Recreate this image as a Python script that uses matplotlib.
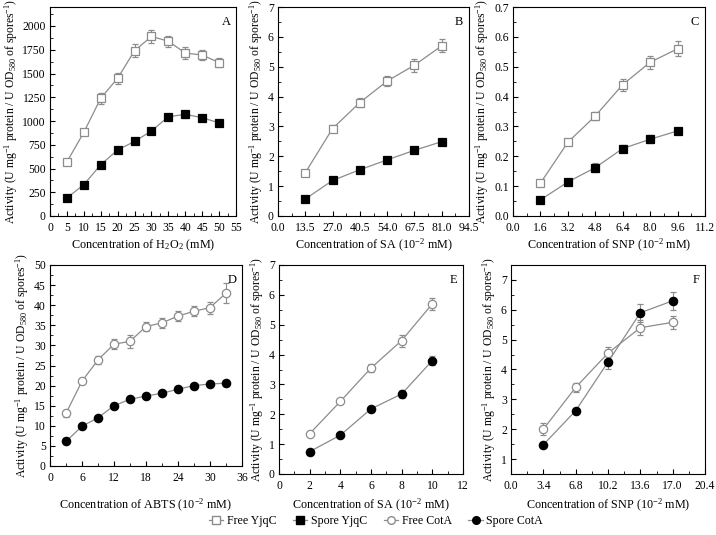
import matplotlib
matplotlib.use("Agg")
import matplotlib.pyplot as plt
import numpy as np
from matplotlib.ticker import AutoMinorLocator, FormatStrFormatter
from matplotlib.lines import Line2D

plt.rcParams["font.family"] = "Liberation Serif"
plt.rcParams["mathtext.fontset"] = "custom"
plt.rcParams["mathtext.rm"] = "Liberation Serif"
plt.rcParams["mathtext.it"] = "Liberation Serif:italic"
plt.rcParams["font.size"] = 8.5

# --- data ---
# A: H2O2, YjqC
xA = [5, 10, 15, 20, 25, 30, 35, 40, 45, 50]
freeA = [570, 880, 1240, 1450, 1740, 1890, 1840, 1715, 1695, 1615]
freeA_err = [30, 20, 60, 60, 70, 70, 60, 60, 50, 50]
sporeA = [190, 330, 540, 695, 785, 895, 1045, 1070, 1035, 980]
sporeA_err = [15, 15, 15, 15, 15, 20, 25, 40, 20, 20]

# B: SA, YjqC
xB = [13.5, 27.0, 40.5, 54.0, 67.5, 81.0]
freeB = [1.45, 2.93, 3.80, 4.52, 5.05, 5.70]
freeB_err = [0.05, 0.12, 0.15, 0.18, 0.22, 0.22]
sporeB = [0.57, 1.19, 1.55, 1.88, 2.20, 2.49]
sporeB_err = [0.03, 0.03, 0.03, 0.03, 0.03, 0.04]

# C: SNP, YjqC
xC = [1.6, 3.2, 4.8, 6.4, 8.0, 9.6]
freeC = [0.110, 0.247, 0.335, 0.440, 0.515, 0.560]
freeC_err = [0.005, 0.010, 0.012, 0.020, 0.022, 0.025]
sporeC = [0.054, 0.114, 0.162, 0.226, 0.257, 0.285]
sporeC_err = [0.005, 0.010, 0.015, 0.012, 0.013, 0.010]

# D: ABTS, CotA
xD = [3, 6, 9, 12, 15, 18, 21, 24, 27, 30, 33]
freeD = [13.1, 21.1, 26.4, 30.3, 31.0, 34.7, 35.6, 37.3, 38.5, 39.4, 43.0]
freeD_err = [0.8, 0.8, 1.0, 1.3, 1.7, 1.0, 1.2, 1.3, 1.3, 1.5, 2.5]
sporeD = [6.1, 9.9, 12.0, 15.0, 16.6, 17.4, 18.1, 19.1, 20.0, 20.4, 20.6]
sporeD_err = [0.3, 0.4, 0.4, 0.5, 0.5, 0.5, 0.5, 0.5, 0.5, 0.5, 0.6]

# E: SA, CotA
xE = [2, 4, 6, 8, 10]
freeE = [1.35, 2.43, 3.55, 4.47, 5.70]
freeE_err = [0.08, 0.08, 0.12, 0.20, 0.20]
sporeE = [0.75, 1.30, 2.18, 2.68, 3.80]
sporeE_err = [0.05, 0.05, 0.05, 0.12, 0.15]

# F: SNP, CotA
xF = [3.4, 6.8, 10.2, 13.6, 17.0]
freeF = [2.00, 3.40, 4.55, 5.40, 5.58]
freeF_err = [0.20, 0.15, 0.20, 0.25, 0.22]
sporeF = [1.48, 2.62, 4.25, 5.90, 6.30]
sporeF_err = [0.05, 0.10, 0.22, 0.30, 0.30]

W, H = 716, 535
fig = plt.figure(figsize=(W / 100, H / 100), dpi=100)


def px_axes(left, right, top, bottom):
    ax = fig.add_axes([left / W, 1 - bottom / H, (right - left) / W, (bottom - top) / H])
    ax._px = (left, right, top, bottom)
    return ax


gray = "#8c8c8c"
ylab = "Activity (U mg$^{-1}$ protein / U OD$_{580}$ of spores$^{-1}$)"


def series(ax, x, y, err, marker, filled):
    ax.errorbar(x, y, yerr=err, color=gray, lw=0.9, marker=marker, ms=6,
                mfc="black" if filled else "white",
                mec="black" if filled else gray, mew=0.9,
                ecolor=gray, elinewidth=0.8, capsize=2, capthick=0.8, zorder=3)


def style(ax, xlim, xticks, ylim, yticks, xlabel, letter, label_y, xfmt=None, yfmt=None):
    ax.set_xlim(*xlim)
    ax.set_ylim(*ylim)
    ax.set_xticks(xticks)
    ax.set_yticks(yticks)
    if xfmt:
        ax.xaxis.set_major_formatter(FormatStrFormatter(xfmt))
    if yfmt:
        ax.yaxis.set_major_formatter(FormatStrFormatter(yfmt))
    ax.xaxis.set_minor_locator(AutoMinorLocator(2))
    ax.yaxis.set_minor_locator(AutoMinorLocator(2))
    ax.tick_params(which="both", direction="in", top=False, right=False, labelsize=8.4)
    ax.tick_params(which="major", length=3.5, pad=3)
    ax.tick_params(axis="x", which="major", pad=4.5)
    ax.tick_params(which="minor", length=2)
    ax.set_xlabel(xlabel, fontsize=8.7, va="center")
    left, right, top, bottom = ax._px
    ax.xaxis.set_label_coords(0.5, (bottom - label_y) / (bottom - top))
    ax.set_ylabel(ylab, fontsize=8.4, labelpad=2)
    ax.text(0.97, 0.955, letter, transform=ax.transAxes, ha="right", va="top", fontsize=9)
    for s in ax.spines.values():
        s.set_linewidth(0.8)


axA = px_axes(50, 236, 7, 216)
series(axA, xA, freeA, freeA_err, "s", False)
series(axA, xA, sporeA, sporeA_err, "s", True)
style(axA, (0, 55), np.arange(0, 56, 5), (0, 2200), np.arange(0, 2001, 250),
      "Concentration of H$_2$O$_2$ (mM)", "A", 245)

axB = px_axes(278, 469, 7, 216)
series(axB, xB, freeB, freeB_err, "s", False)
series(axB, xB, sporeB, sporeB_err, "s", True)
style(axB, (0, 94.5), np.arange(0, 94.6, 13.5), (0, 7), np.arange(0, 8, 1),
      "Concentration of SA (10$^{-2}$ mM)", "B", 245, xfmt="%.1f")

axC = px_axes(513, 705, 7, 216)
series(axC, xC, freeC, freeC_err, "s", False)
series(axC, xC, sporeC, sporeC_err, "s", True)
style(axC, (0, 11.2), np.arange(0, 11.3, 1.6), (0, 0.7), np.arange(0, 0.71, 0.1),
      "Concentration of SNP (10$^{-2}$ mM)", "C", 245, xfmt="%.1f", yfmt="%.1f")

axD = px_axes(50, 242, 265, 466)
series(axD, xD, freeD, freeD_err, "o", False)
series(axD, xD, sporeD, sporeD_err, "o", True)
style(axD, (0, 36), np.arange(0, 37, 6), (0, 50), np.arange(0, 51, 5),
      "Concentration of ABTS (10$^{-2}$ mM)", "D", 505)

axE = px_axes(279, 463, 265, 474)
series(axE, xE, freeE, freeE_err, "o", False)
series(axE, xE, sporeE, sporeE_err, "o", True)
style(axE, (0, 12), np.arange(0, 13, 2), (0, 7), np.arange(0, 8, 1),
      "Concentration of SA (10$^{-2}$ mM)", "E", 505)

axF = px_axes(511, 705, 265, 474)
series(axF, xF, freeF, freeF_err, "o", False)
series(axF, xF, sporeF, sporeF_err, "o", True)
style(axF, (0, 20.4), np.arange(0, 20.5, 3.4), (0.5, 7.5), np.arange(1, 8, 1),
      "Concentration of SNP (10$^{-2}$ mM)", "F", 505, xfmt="%.1f")

labels = ["Free YjqC", "Spore YjqC", "Free CotA", "Spore CotA"]
handles = [
    Line2D([], [], color=gray, lw=0.9, marker="s", ms=5.5, mfc="white", mec=gray),
    Line2D([], [], color=gray, lw=0.9, marker="s", ms=5.5, mfc="black", mec="black"),
    Line2D([], [], color=gray, lw=0.9, marker="o", ms=5.5, mfc="white", mec=gray),
    Line2D([], [], color=gray, lw=0.9, marker="o", ms=5.5, mfc="black", mec="black"),
]
fig.legend(handles, labels, loc="center", bbox_to_anchor=(0.525, 1 - 521 / H), ncol=4,
           frameon=False, fontsize=8.6, handlelength=1.2, handletextpad=0.3,
           columnspacing=1.4, borderpad=0.1)

fig.savefig("out.png", dpi=100)
